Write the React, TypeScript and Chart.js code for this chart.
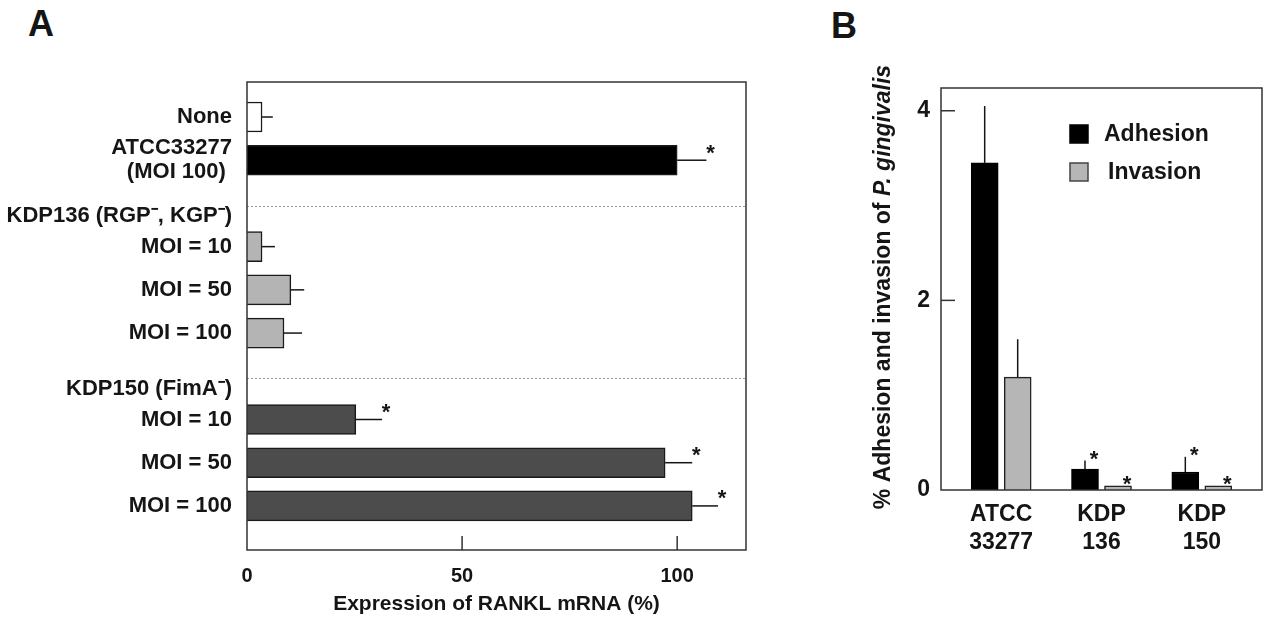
import React, { useEffect, useRef } from "react";
import { Chart, registerables } from "chart.js";

Chart.register(...registerables);

const FONT = '"Liberation Sans", Arial, Helvetica, sans-serif';

// ---------- Panel A data ----------
const labelsA = [
  "None",
  "ATCC33277\n(MOI 100) ",
  "KDP136 (RGP\u207B, KGP\u207B)",
  "MOI = 10",
  "MOI = 50",
  "MOI = 100",
  "KDP150 (FimA\u207B)",
  "MOI = 10",
  "MOI = 50",
  "MOI = 100",
];
const strainA = ["None", "ATCC33277", "KDP136", "KDP136", "KDP136", "KDP136", "KDP150", "KDP150", "KDP150", "KDP150"];
// null = group header row (no bar)
const valuesA = [3.5, 100, null, 3.5, 10.2, 8.6, null, 25.3, 97.2, 103.5];
const errorsA = [2.5, 6.8, null, 3.0, 3.1, 4.2, null, 6.1, 6.3, 6.0];
const significantA = [false, true, false, false, false, false, false, true, true, true];
const xTicksA = [0, 50, 100];
const xTitleA = "Expression of RANKL mRNA (%)";

// ---------- Panel B data ----------
const categoriesB = ["ATCC\n33277", "KDP\n136", "KDP\n150"];
const seriesNamesB = ["Adhesion", "Invasion"];
const adhesionB = [3.45, 0.22, 0.19];
const adhesionErrB = [0.6, 0.09, 0.16];
const adhesionSigB = [false, true, true];
const invasionB = [1.19, 0.045, 0.045];
const invasionErrB = [0.4, 0, 0];
const invasionSigB = [false, true, true];
const yTicksB = [0, 2, 4];
const yTitleB = ["% Adhesion and invasion of ", "P. gingivalis"];

// ---------- styles ----------
const strainColor: Record<string, string> = {
  None: "#ffffff",
  ATCC33277: "#000000",
  KDP136: "#b4b4b4",
  KDP150: "#4c4c4c",
};
const seriesColorB = ["#000000", "#b6b6b6"];
const INK = "#151515";

function drawStar(ctx: CanvasRenderingContext2D, x: number, yCenter: number) {
  ctx.save();
  ctx.fillStyle = INK;
  ctx.font = `bold 22px ${FONT}`;
  ctx.textAlign = "center";
  ctx.textBaseline = "alphabetic";
  ctx.fillText("*", x, yCenter + 12.5);
  ctx.restore();
}

function buildChartA(canvas: HTMLCanvasElement) {
  const idx = valuesA.map((v, i) => (v == null ? -1 : i)).filter((i) => i >= 0);
  const points = idx.map((i) => ({ x: valuesA[i] as number, y: i }));
  const fills = idx.map((i) => strainColor[strainA[i]]);

  const plugin = {
    id: "panelA",
    beforeDatasetsDraw(chart: any) {
      const { ctx, chartArea, scales } = chart;
      ctx.save();
      ctx.strokeStyle = "#9a9a9a";
      ctx.lineWidth = 1;
      ctx.setLineDash([2, 2]);
      valuesA.forEach((v, i) => {
        if (v != null) return;
        const y = Math.round(scales.y.getPixelForValue(i + 0.05)) + 0.5;
        ctx.beginPath();
        ctx.moveTo(chartArea.left, y);
        ctx.lineTo(chartArea.right, y);
        ctx.stroke();
      });
      ctx.restore();
    },
    afterDatasetsDraw(chart: any) {
      const { ctx, chartArea, scales } = chart;
      const meta = chart.getDatasetMeta(0);
      ctx.save();
      ctx.strokeStyle = INK;
      ctx.lineWidth = 1.5;
      meta.data.forEach((el: any, k: number) => {
        const i = idx[k];
        const end = scales.x.getPixelForValue((valuesA[i] as number) + (errorsA[i] as number));
        ctx.beginPath();
        ctx.moveTo(el.x, el.y);
        ctx.lineTo(end, el.y);
        ctx.stroke();
        if (significantA[i]) drawStar(ctx, end + 4, el.y - el.height / 2 + 2);
      });
      // frame
      ctx.strokeStyle = "#333";
      ctx.lineWidth = 1.5;
      ctx.strokeRect(chartArea.left, chartArea.top, chartArea.right - chartArea.left, chartArea.bottom - chartArea.top);
      // inner tick marks
      xTicksA.forEach((t) => {
        if (t === 0) return;
        const x = scales.x.getPixelForValue(t);
        ctx.beginPath();
        ctx.moveTo(x, chartArea.bottom);
        ctx.lineTo(x, chartArea.bottom - 14);
        ctx.stroke();
      });
      ctx.restore();
    },
  };

  return new Chart(canvas, {
    type: "bar",
    data: {
      datasets: [
        {
          data: points as any,
          backgroundColor: fills,
          borderColor: "#1a1a1a",
          borderWidth: 1.5,
          barThickness: 30,
        },
      ],
    },
    options: {
      indexAxis: "y",
      responsive: false,
      animation: false,
      events: [],
      layout: { padding: { left: 0, right: 54, top: 82, bottom: 0 } },
      plugins: { legend: { display: false }, title: { display: false }, tooltip: { enabled: false } },
      scales: {
        y: {
          type: "linear",
          offset: false,
          reverse: true,
          min: -0.81,
          max: 10.02,
          grid: { display: false, offset: false },
          border: { display: false },
          afterBuildTicks: (s: any) => {
            s.ticks = labelsA.map((_, i) => ({ value: valuesA[i] == null ? i + 0.3 : i }));
          },
          afterFit: (s: any) => {
            s.width = 247;
          },
          ticks: {
            autoSkip: false,
            padding: 7,
            color: INK,
            font: { family: FONT, size: 22, weight: "bold", lineHeight: 1.1 },
            callback: (_v: any, i: number) => labelsA[i].split("\n"),
          },
        },
        x: {
          type: "linear",
          min: 0,
          max: 116,
          grid: { display: false },
          border: { display: false },
          afterBuildTicks: (s: any) => {
            s.ticks = xTicksA.map((v) => ({ value: v }));
          },
          afterFit: (s: any) => {
            s.height = 67;
          },
          ticks: {
            autoSkip: false,
            maxRotation: 0,
            padding: 6,
            color: INK,
            font: { family: FONT, size: 20, weight: "bold" },
            callback: (v: any) => String(v),
          },
          title: {
            display: true,
            text: xTitleA,
            color: INK,
            padding: { top: 0, bottom: 0 },
            font: { family: FONT, size: 21, weight: "bold" },
          },
        },
      },
    } as any,
    plugins: [plugin],
  });
}

function buildChartB(canvas: HTMLCanvasElement) {
  const values = [adhesionB, invasionB];
  const errs = [adhesionErrB, invasionErrB];
  const sigs = [adhesionSigB, invasionSigB];

  const plugin = {
    id: "panelB",
    afterDatasetsDraw(chart: any) {
      const { ctx, chartArea, scales } = chart;
      ctx.save();
      ctx.strokeStyle = INK;
      ctx.lineWidth = 1.5;
      values.forEach((vals, d) => {
        const meta = chart.getDatasetMeta(d);
        meta.data.forEach((el: any, i: number) => {
          const topY = scales.y.getPixelForValue(vals[i] + errs[d][i]);
          if (errs[d][i] > 0) {
            ctx.beginPath();
            ctx.moveTo(el.x, el.y);
            ctx.lineTo(el.x, topY);
            ctx.stroke();
          }
          if (sigs[d][i]) drawStar(ctx, el.x + 9, Math.min(topY, el.y) - 7);
        });
      });
      // frame
      ctx.strokeStyle = "#333";
      ctx.strokeRect(chartArea.left, chartArea.top, chartArea.right - chartArea.left, chartArea.bottom - chartArea.top);
      yTicksB.forEach((t) => {
        if (t === 0) return;
        const y = scales.y.getPixelForValue(t);
        ctx.beginPath();
        ctx.moveTo(chartArea.left, y);
        ctx.lineTo(chartArea.left + 14, y);
        ctx.stroke();
      });
      // legend
      ctx.font = `bold 23px ${FONT}`;
      ctx.textBaseline = "middle";
      ctx.textAlign = "left";
      const lx = 270;
      seriesNamesB.forEach((name, d) => {
        const cy = 134 + d * 38;
        ctx.fillStyle = seriesColorB[d];
        ctx.fillRect(lx, cy - 9, 18, 18);
        ctx.strokeStyle = d === 0 ? "#000" : "#444";
        ctx.lineWidth = 1.5;
        ctx.strokeRect(lx, cy - 9, 18, 18);
        ctx.fillStyle = INK;
        ctx.fillText(name, lx + 34 + d * 4, cy + 1);
      });
      // y title with italic species name
      ctx.translate(84, (chartArea.top + chartArea.bottom) / 2 - 2);
      ctx.rotate(-Math.PI / 2);
      const fonts = [`bold 23px ${FONT}`, `italic bold 23px ${FONT}`];
      const widths = yTitleB.map((t, k) => {
        ctx.font = fonts[k];
        return ctx.measureText(t).width;
      });
      let x = -(widths[0] + widths[1]) / 2;
      yTitleB.forEach((t, k) => {
        ctx.font = fonts[k];
        ctx.fillText(t, x, 0);
        x += widths[k];
      });
      ctx.restore();
    },
  };

  return new Chart(canvas, {
    type: "bar",
    data: {
      datasets: values.map((vals, d) => ({
        label: seriesNamesB[d],
        data: vals.map((v, i) => ({ x: i, y: v })) as any,
        backgroundColor: seriesColorB[d],
        borderColor: d === 0 ? "#000" : "#222",
        borderWidth: 1.5,
        barThickness: 33,
        maxBarThickness: 27,
      })),
    },
    options: {
      responsive: false,
      animation: false,
      events: [],
      layout: { padding: { left: 0, right: 2, top: 88, bottom: 0 } },
      plugins: { legend: { display: false }, title: { display: false }, tooltip: { enabled: false } },
      scales: {
        x: {
          type: "linear",
          offset: false,
          min: -0.6,
          max: 2.6,
          grid: { display: false, offset: false },
          border: { display: false },
          afterBuildTicks: (s: any) => {
            s.ticks = categoriesB.map((_, i) => ({ value: i }));
          },
          afterFit: (s: any) => {
            s.height = 127;
          },
          ticks: {
            autoSkip: false,
            maxRotation: 0,
            padding: 3,
            color: INK,
            font: { family: FONT, size: 23, weight: "bold" },
            callback: (_v: any, i: number) => categoriesB[i].split("\n"),
          },
        },
        y: {
          type: "linear",
          min: 0,
          max: 4.24,
          grid: { display: false },
          border: { display: false },
          afterBuildTicks: (s: any) => {
            s.ticks = yTicksB.map((v) => ({ value: v }));
          },
          afterFit: (s: any) => {
            s.width = 141;
          },
          ticks: {
            autoSkip: false,
            padding: 3,
            color: INK,
            font: { family: FONT, size: 23, weight: "bold" },
            callback: (v: any) => String(v),
          },
        },
      },
    } as any,
    plugins: [plugin],
  });
}

export default function App() {
  const refA = useRef<HTMLCanvasElement>(null);
  const refB = useRef<HTMLCanvasElement>(null);
  useEffect(() => {
    const a = buildChartA(refA.current!);
    const b = buildChartB(refB.current!);
    return () => {
      a.destroy();
      b.destroy();
    };
  }, []);
  const letter: React.CSSProperties = {
    position: "absolute",
    fontFamily: FONT,
    fontWeight: "bold",
    fontSize: 36,
    lineHeight: "36px",
    color: INK,
  };
  return (
    <div style={{ position: "absolute", left: 0, top: 0, width: 1264, height: 617, background: "#fff", overflow: "hidden" }}>
      <div style={{ ...letter, left: 28, top: 6 }}>A</div>
      <div style={{ ...letter, left: 831, top: 8 }}>B</div>
      <canvas ref={refA} width={800} height={617} style={{ position: "absolute", left: 0, top: 0, width: 800, height: 617 }} />
      <canvas ref={refB} width={464} height={617} style={{ position: "absolute", left: 800, top: 0, width: 464, height: 617 }} />
    </div>
  );
}
